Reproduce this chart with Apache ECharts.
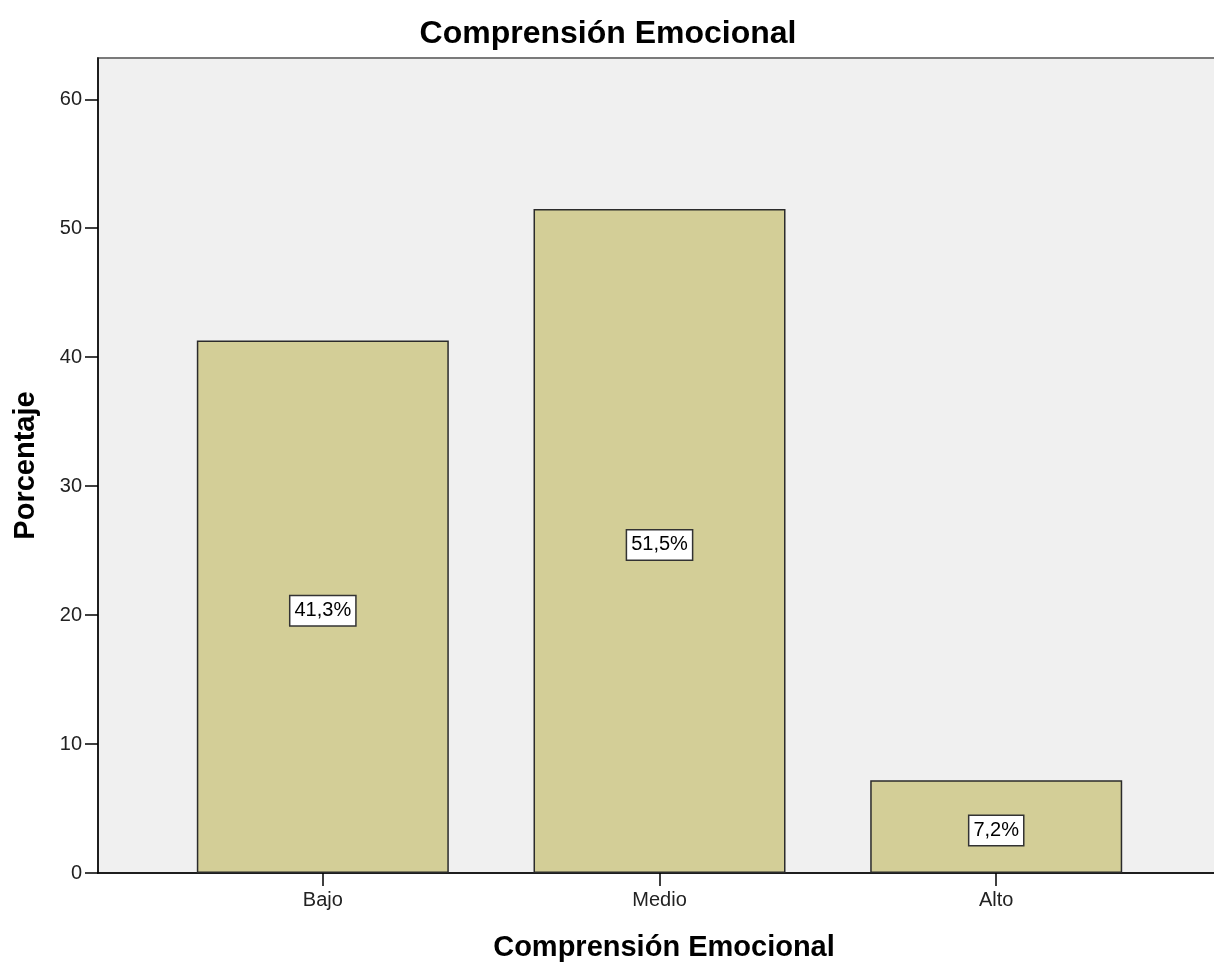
<!DOCTYPE html>
<html>
<head>
<meta charset="utf-8">
<title>Comprensión Emocional</title>
<script src="https://cdn.jsdelivr.net/npm/echarts@6/dist/echarts.min.js"></script>
<style>
  html, body { margin: 0; padding: 0; background: #ffffff; }
  #chart { width: 1214px; height: 962px; }
</style>
</head>
<body>
<div id="chart"></div>
<script>
// Frequency of each level, in percent
const categories = ['Bajo', 'Medio', 'Alto'];
const percentages = [41.3, 51.5, 7.2];
const yTickValues = [0, 10, 20, 30, 40, 50, 60];
const categoryPositions = [0, 1, 2];

const FONT = '"Liberation Sans", Arial, sans-serif';

const chart = echarts.init(document.getElementById('chart'), null, { renderer: 'canvas' });

const barData = categoryPositions.map((pos, i) => [pos, percentages[i]]);

chart.setOption({
  backgroundColor: '#ffffff',
  animation: false,
  title: {
    text: 'Comprensión Emocional',
    left: 603,
    textAlign: 'center',
    top: 13,
    textStyle: { fontFamily: FONT, fontWeight: 'bold', fontSize: 32, color: '#000000' }
  },
  grid: {
    left: 98,
    right: -4,
    top: 58,
    bottom: 89,
    outerBoundsMode: 'none',
    show: true,
    backgroundColor: '#f0f0f0',
    borderColor: '#7a7a7a',
    borderWidth: 2,
    containLabel: false
  },
  xAxis: {
    type: 'value',
    min: -0.6677,
    max: 2.6587,
    name: 'Comprensión Emocional',
    nameLocation: 'middle',
    nameGap: 60,
    nameTextStyle: { fontFamily: FONT, fontWeight: 'bold', fontSize: 29, color: '#000000', padding: [0, 0, 0, 12] },
    axisLine: { show: true, onZero: false, lineStyle: { color: '#000000', width: 1.5 } },
    axisTick: { show: true, inside: false, length: 13, customValues: categoryPositions, lineStyle: { color: '#000000', width: 1.5 } },
    axisLabel: {
      show: true,
      customValues: categoryPositions,
      margin: 17,
      fontFamily: FONT,
      fontSize: 20,
      color: '#222222',
      formatter: (v) => categories[Math.round(v)]
    },
    splitLine: { show: false }
  },
  yAxis: {
    type: 'value',
    min: 0,
    max: 63.2,
    name: 'Porcentaje',
    nameLocation: 'middle',
    nameGap: 58,
    nameRotate: 90,
    nameTextStyle: { fontFamily: FONT, fontWeight: 'bold', fontSize: 29, color: '#000000' },
    axisLine: { show: true, onZero: false, lineStyle: { color: '#000000', width: 1.5 } },
    axisTick: { show: true, inside: false, length: 13, customValues: yTickValues, lineStyle: { color: '#000000', width: 1.5 } },
    axisLabel: {
      show: true,
      customValues: yTickValues,
      margin: 16,
      fontFamily: FONT,
      fontSize: 20,
      color: '#222222'
    },
    splitLine: { show: false }
  },
  series: [{
    type: 'bar',
    data: barData,
    barWidth: 252,
    itemStyle: { color: '#d3ce97', borderColor: '#2b2b2b', borderWidth: 1.5 },
    label: {
      show: true,
      position: 'inside',
      offset: [0, 4],
      formatter: (p) => p.value[1].toFixed(1).replace('.', ',') + '%',
      fontFamily: FONT,
      fontSize: 20,
      color: '#000000',
      lineHeight: 22,
      backgroundColor: '#ffffff',
      borderColor: '#333333',
      borderWidth: 1.5,
      padding: [4, 4, 3, 4]
    }
  }]
});
</script>
</body>
</html>
